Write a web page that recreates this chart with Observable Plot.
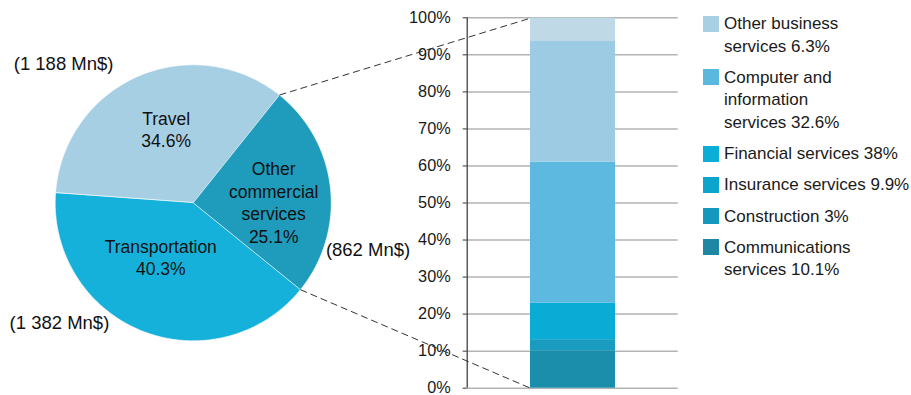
<!DOCTYPE html>
<html>
<head>
<meta charset="utf-8">
<script src="https://cdn.jsdelivr.net/npm/d3@7"></script>
<script src="https://cdn.jsdelivr.net/npm/@observablehq/plot@0.6"></script>
<style>
  body { margin: 0; background: #fff; }
  #chart { position: relative; width: 911px; height: 395px; font-family: "Liberation Sans", Arial, sans-serif; color: #1a1a1a; }
  #legend { position: absolute; left: 703px; top: 13px; font-size: 17px; line-height: 22.6px; }
  .item { display: flex; align-items: flex-start; margin-bottom: 8.6px; }
  .swatch { width: 16px; height: 16px; margin-top: 2.5px; margin-right: 5px; flex: none; }
  .label { white-space: pre-line; }
</style>
</head>
<body>
<div id="chart"><div id="legend"></div></div>
<script>
// Services exports: split of the total, clockwise from Travel
const pieNames = ["Travel", "Other commercial services", "Transportation"];
const pieLabels = ["Travel", "Other\ncommercial\nservices", "Transportation"];
const pieShares = [34.6, 25.1, 40.3];
const pieAmounts = ["1 188", "862", "1 382"];
const pieColors = ["#a7cfe4", "#1f9bbc", "#15b1da"];

// Breakdown of "Other commercial services", stacked bottom to top
const barNames = ["Communications services", "Construction", "Insurance services",
  "Financial services", "Computer and information services", "Other business services"];
const barShares = [10.1, 3, 9.9, 38, 32.6, 6.3];
const barColors = ["#1a8eab", "#1a9cc0", "#0aabd4", "#5eb9e1", "#9ccbe3", "#c0d9e6"];

// Legend, top to bottom
const legendText = ["Other business\nservices 6.3%", "Computer and\ninformation\nservices 32.6%",
  "Financial services 38%", "Insurance services 9.9%", "Construction 3%", "Communications\nservices 10.1%"];
const legendColors = ["#a9cfe4", "#5ab8df", "#0aaed6", "#0aa4cc", "#1598bd", "#1e87a3"];

const yTicks = [0, 10, 20, 30, 40, 50, 60, 70, 80, 90, 100];

// ---- layout (x is in pixels, y is the percentage scale of the bar) ----
const W = 911, H = 395;
const Y0 = 387.7, Y100 = 17.3;          // pixel rows of 0% and 100%
const ky = (Y0 - Y100) / 100;           // pixels per percentage point
const axisX = 466.7, gridEnd = 677.7;
const barX1 = 530, barX2 = 615;
const cx = 192.7, cyPx = 202.3, R = 138;
const startDeg = 274.1;
const toY = py => (Y0 - py) / ky;
const rad = d => d * Math.PI / 180;
const polar = (a, r) => ({x: cx + r * Math.sin(a), y: toY(cyPx - r * Math.cos(a))});

// label placement around the pie: [angle in degrees, radius in px]
const innerPos = {"Travel": [340, 79], "Other commercial services": [89.3, 80.5], "Transportation": [211, 63]};
const outerPos = {"Travel": [317, 190], "Other commercial services": [105, 181], "Transportation": [228, 180]};

const pieData = pieNames.map((name, i) => ({name, share: pieShares[i]}));
const arcs = d3.pie().sort(null).value(d => d.share)
  .startAngle(rad(startDeg)).endAngle(rad(startDeg + 360))(pieData);

// slice outlines as closed polygons
const slicePts = arcs.flatMap(a => {
  const n = Math.max(2, Math.ceil((a.endAngle - a.startAngle) / rad(1)));
  const pts = [{name: a.data.name, ...polar(0, 0)}];
  for (let k = 0; k <= n; ++k) {
    const t = a.startAngle + (a.endAngle - a.startAngle) * k / n;
    pts.push({name: a.data.name, ...polar(t, R)});
  }
  return pts;
});

const inner = pieNames.map((name, i) => {
  const [deg, r] = innerPos[name];
  return {...polar(rad(deg), r), text: `${pieLabels[i]}\n${pieShares[i]}%`};
});
const outer = pieNames.map((name, i) => {
  const [deg, r] = outerPos[name];
  return {...polar(rad(deg), r), text: `(${pieAmounts[i]} Mn$)`};
});

const barData = barNames.map((name, i) => ({name, share: barShares[i]}));
const barTop = d3.sum(barShares);

// dashed connectors from the "Other commercial services" slice edges to the bar
const other = arcs.find(a => a.data.name === "Other commercial services");
const edge = a => { const p = polar(a, R); return {x1: p.x, y1: p.y}; };
const links = [
  {...edge(other.startAngle), x2: barX1, y2: barTop},
  {...edge(other.endAngle), x2: barX1, y2: 0}
];

const chart = Plot.plot({
  width: W, height: H,
  marginTop: Y100, marginBottom: H - Y0, marginLeft: axisX, marginRight: W - gridEnd,
  x: {type: "linear", domain: [0, W], range: [0, W], axis: null},
  y: {domain: [0, 100], range: [Y0, Y100], axis: null},
  color: {domain: [...pieNames, ...barNames], range: [...pieColors, ...barColors]},
  style: {fontFamily: "'Liberation Sans', Arial, sans-serif", fontSize: "16px", color: "#1a1a1a", background: "transparent", overflow: "visible"},
  marks: [
    Plot.gridY(yTicks, {stroke: "#b3b3b3", strokeOpacity: 1, strokeWidth: 1.5}),
    Plot.rectY(barData, Plot.stackY({x1: barX1, x2: barX2, y: "share", fill: "name"})),
    Plot.ruleX([axisX], {y1: 0, y2: 100, stroke: "#333", strokeWidth: 1.2}),
    Plot.axisY(yTicks, {tickFormat: d => d + "%", tickSize: 4, tickPadding: 12.5, fontSize: 16.3, stroke: "#333", fill: "#1a1a1a"}),
    Plot.line(slicePts, {x: "x", y: "y", z: "name", fill: "name", stroke: "white", strokeWidth: 0.6, curve: "linear-closed"}),
    Plot.text(inner, {x: "x", y: "y", text: "text", fontSize: 17.5, lineHeight: 1.29, fill: "#111"}),
    Plot.text(outer, {x: "x", y: "y", text: "text", fontSize: 18.5, fill: "#111"}),
    Plot.link(links, {x1: "x1", y1: "y1", x2: "x2", y2: "y2", stroke: "#333", strokeWidth: 1, strokeDasharray: "7,4"})
  ]
});

const root = document.getElementById("chart");
root.insertBefore(chart, root.firstChild);

const legend = document.getElementById("legend");
legendText.forEach((t, i) => {
  const item = document.createElement("div");
  item.className = "item";
  const sw = document.createElement("div");
  sw.className = "swatch";
  sw.style.background = legendColors[i];
  const lab = document.createElement("div");
  lab.className = "label";
  lab.textContent = t;
  item.append(sw, lab);
  legend.append(item);
});
</script>
</body>
</html>
